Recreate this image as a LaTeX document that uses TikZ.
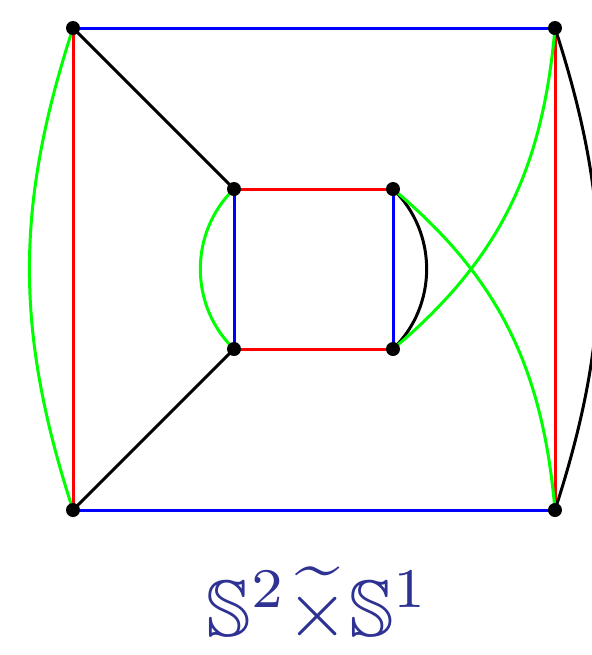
\documentclass[tikz,border=0pt]{standalone}
\usepackage{amssymb}
\definecolor{labelblue}{RGB}{46,50,146}
\begin{document}
\begin{tikzpicture}[x=0.5pt,y=0.5pt,
  dot/.style={circle,fill=black,inner sep=0pt,minimum size=7pt},
  edge/.style={line width=1.5pt},
  bl/.style={edge,draw={rgb,255:red,0;green,0;blue,255}},
  rd/.style={edge,draw={rgb,255:red,255;green,0;blue,0}},
  gr/.style={edge,draw={rgb,255:red,0;green,255;blue,0}},
  bk/.style={edge,draw=black}]
\useasboundingbox (0,0) rectangle (592,-655);
\coordinate (p1) at (73,-28);
\coordinate (p2) at (555,-28);
\coordinate (p3) at (73,-510);
\coordinate (p4) at (555,-510);
\coordinate (q1) at (234,-189);
\coordinate (q2) at (393,-189);
\coordinate (q3) at (234,-349);
\coordinate (q4) at (393,-349);
% outer
\draw[bl] (p1) -- (p2);
\draw[bl] (p3) -- (p4);
\draw[rd] (p1) -- (p3);
\draw[rd] (p2) -- (p4);
\draw[gr] (p1) to[bend right=18] (p3);
\draw[bk] (p2) to[bend left=18] (p4);
% spokes
\draw[bk] (p1) -- (q1);
\draw[bk] (p3) -- (q3);
% inner
\draw[rd] (q1) -- (q2);
\draw[rd] (q3) -- (q4);
\draw[bl] (q1) -- (q3);
\draw[bl] (q2) -- (q4);
\draw[gr] (q1) to[bend right=46] (q3);
\draw[bk] (q2) to[bend left=46] (q4);
% crossing greens
\draw[gr] (q2) to[out=-40,in=95] (p4);
\draw[gr] (q4) to[out=40,in=-95] (p2);
% dots
\foreach \p in {p1,p2,p3,p4,q1,q2,q3,q4} \node[dot] (d\p) at (\p) {};
\node[text=labelblue,scale=4] (lbl) at (318,-605) {$\mathbb{S}^2\widetilde{\times}\mathbb{S}^1$};
\end{tikzpicture}
\end{document}
